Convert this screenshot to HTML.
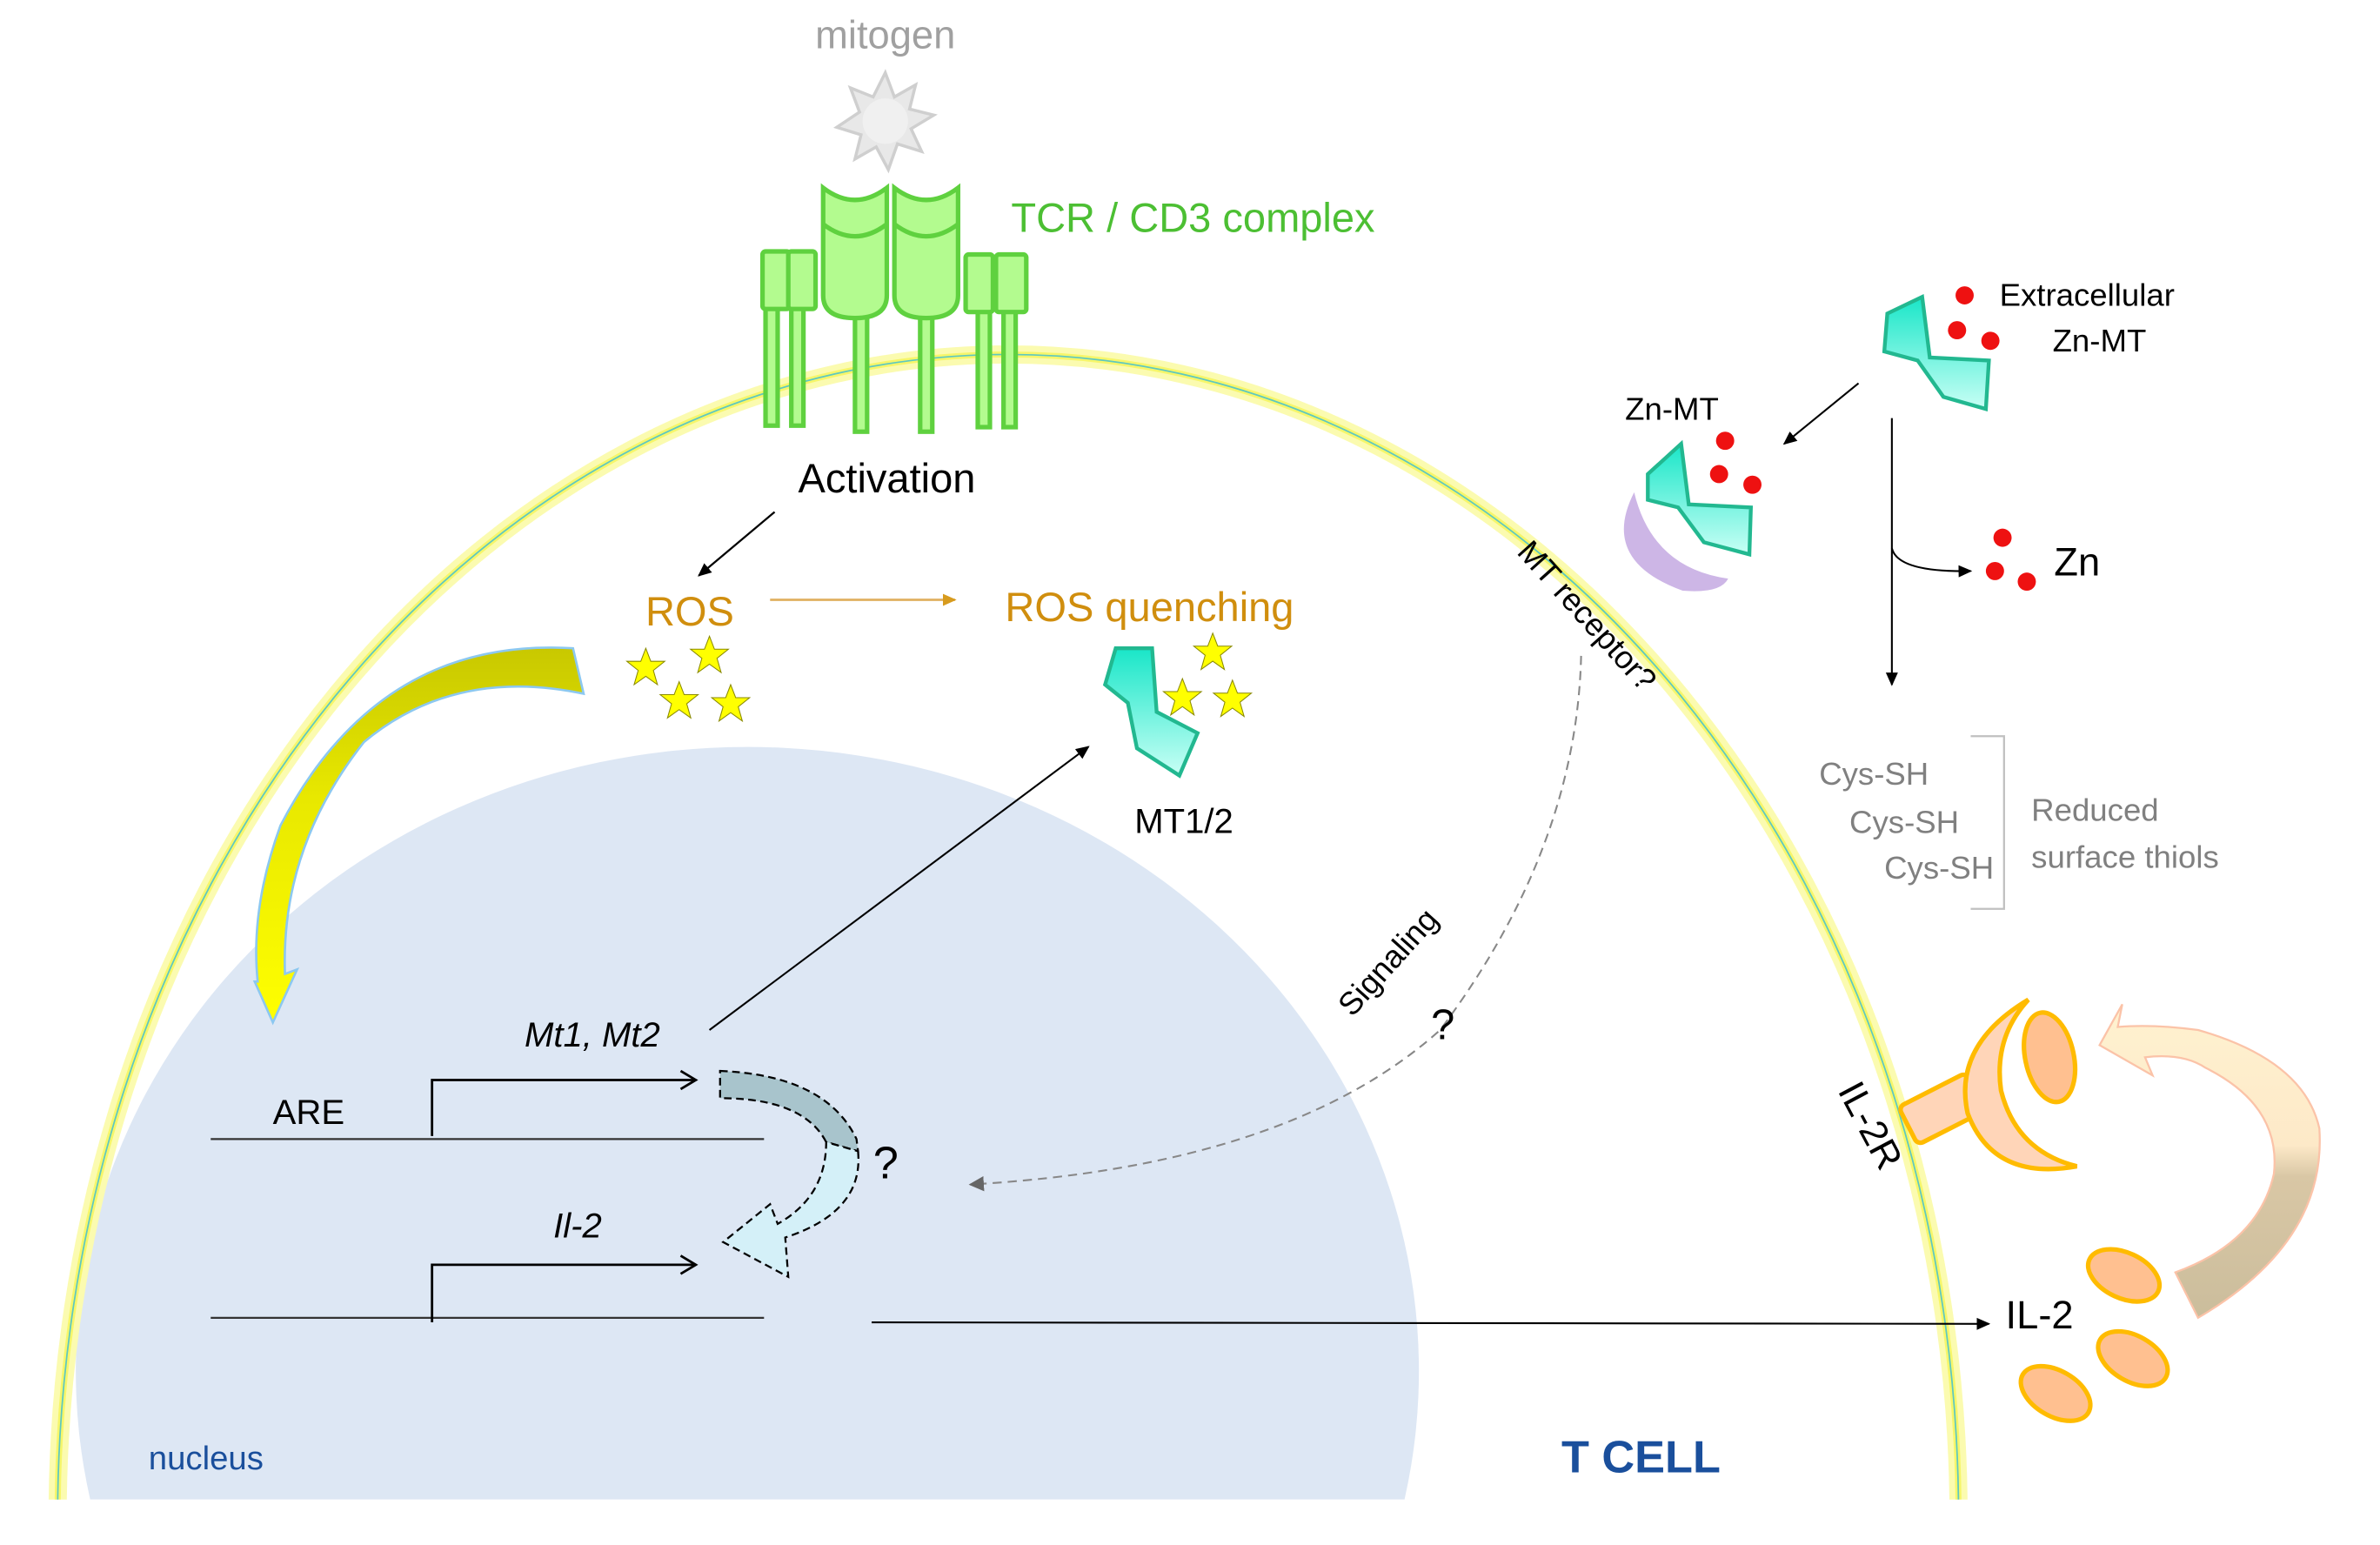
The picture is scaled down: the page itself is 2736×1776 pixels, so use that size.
<!DOCTYPE html>
<html><head><meta charset="utf-8"><style>
html,body{margin:0;padding:0;background:#fff;width:2736px;height:1776px;overflow:hidden;}
svg{display:block;}
text{font-family:"Liberation Sans",sans-serif;}
</style></head><body>
<svg width="2736" height="1776" viewBox="0 0 1570 1020" preserveAspectRatio="none" xmlns="http://www.w3.org/2000/svg">
<defs>
<linearGradient id="mtg" x1="0" y1="0" x2="0" y2="1"><stop offset="0" stop-color="#19e6c8"/><stop offset="1" stop-color="#c8fff5"/></linearGradient>
<linearGradient id="yg" x1="0" y1="0" x2="0" y2="1"><stop offset="0" stop-color="#c8c800"/><stop offset="0.4" stop-color="#e8e800"/><stop offset="1" stop-color="#ffff00"/></linearGradient>
<linearGradient id="og" x1="0" y1="0" x2="0" y2="1"><stop offset="0" stop-color="#fff2d0"/><stop offset="0.45" stop-color="#fde9c8"/><stop offset="0.55" stop-color="#d9c7a5"/><stop offset="1" stop-color="#cbbd9c"/></linearGradient>
<marker id="ah" markerWidth="10" markerHeight="10" refX="8" refY="5" orient="auto" markerUnits="userSpaceOnUse"><path d="M0,1 L9,5 L0,9 z" fill="#000"/></marker>
<marker id="ahg" markerWidth="12" markerHeight="12" refX="9" refY="6" orient="auto" markerUnits="userSpaceOnUse"><path d="M0,1 L10,6 L0,11 z" fill="#666"/></marker>
<marker id="aho" markerWidth="10" markerHeight="10" refX="8" refY="5" orient="auto" markerUnits="userSpaceOnUse"><path d="M0,1 L9,5 L0,9 z" fill="#d79b1e"/></marker>
<marker id="aop" markerWidth="14" markerHeight="14" refX="10" refY="7" orient="auto" markerUnits="userSpaceOnUse"><path d="M1,1 L11,7 L1,13" fill="none" stroke="#000" stroke-width="1.6"/></marker>
</defs>

<path d="M59.5,990 A443,412 0 1 1 926.5,990 Z" fill="#dde7f4"/>
<path d="M38,1002 A627,768 0 0 1 1292,1002" fill="none" stroke="#fbfbb0" stroke-width="12"/>
<path d="M38,1002 A627,768 0 0 1 1292,1002" fill="none" stroke="#f6f66a" stroke-width="4"/>
<path d="M38,1002 A627,768 0 0 1 1292,1002" fill="none" stroke="#5ec8c0" stroke-width="1"/>
<rect x="0" y="990" width="1570" height="30" fill="#fff"/>

<text x="584" y="32" font-size="26" fill="#a0a0a0" text-anchor="middle">mitogen</text>
<g transform="translate(584,80)">
<polygon points="0,-32 6,-16 20,-24 16,-8 32,-4 17,5 24,20 8,15 2,32 -6,17 -20,25 -16,9 -32,4 -17,-6 -23,-22 -8,-16" fill="#e8e8e8" stroke="#cfcfcf" stroke-width="2"/>
<circle r="15" fill="#f0f0f0"/>
</g>

<g fill="#b3fb8f" stroke="#5fd13f" stroke-width="3">
<rect x="505" y="196" width="8" height="85"/><rect x="522" y="196" width="8" height="85"/>
<rect x="564" y="205" width="8" height="80"/><rect x="607" y="205" width="8" height="80"/>
<rect x="645" y="200" width="8" height="82"/><rect x="662" y="200" width="8" height="82"/>
<rect x="503" y="166" width="18" height="38" rx="2"/><rect x="520" y="166" width="18" height="38" rx="2"/>
<rect x="637" y="168" width="18" height="38" rx="2"/><rect x="657" y="168" width="20" height="38" rx="2"/>
<path d="M543,124 Q564,140 585,124 L585,195 Q585,210 564,210 Q543,210 543,195 Z"/>
<path d="M590,124 Q611,140 632,124 L632,195 Q632,210 611,210 Q590,210 590,195 Z"/>
<path d="M543,148 Q564,164 585,148" fill="none"/>
<path d="M590,148 Q611,164 632,148" fill="none"/>
</g>
<text x="667" y="153" font-size="27" fill="#4cbf33">TCR / CD3 complex</text>

<text x="585" y="325" font-size="27" fill="#000" text-anchor="middle">Activation</text>
<line x1="511" y1="338" x2="461" y2="380" stroke="#000" stroke-width="1.3" marker-end="url(#ah)"/>

<text x="455" y="413" font-size="27" fill="#d08e0e" text-anchor="middle">ROS</text>
<line x1="508" y1="396" x2="630" y2="396" stroke="#e0b060" stroke-width="1.6" marker-end="url(#aho)"/>
<text x="663" y="410" font-size="27" fill="#d08e0e">ROS quenching</text>

<g fill="#ffff00" stroke="#8a8a00" stroke-width="0.6">
<path d="M0,-13 L3.3,-4.4 L12.5,-4.4 L5,1.6 L7.7,11 L0,5.5 L-7.7,11 L-5,1.6 L-12.5,-4.4 L-3.3,-4.4 Z" transform="translate(426,441)"/>
<path d="M0,-13 L3.3,-4.4 L12.5,-4.4 L5,1.6 L7.7,11 L0,5.5 L-7.7,11 L-5,1.6 L-12.5,-4.4 L-3.3,-4.4 Z" transform="translate(468,433)"/>
<path d="M0,-13 L3.3,-4.4 L12.5,-4.4 L5,1.6 L7.7,11 L0,5.5 L-7.7,11 L-5,1.6 L-12.5,-4.4 L-3.3,-4.4 Z" transform="translate(448,463)"/>
<path d="M0,-13 L3.3,-4.4 L12.5,-4.4 L5,1.6 L7.7,11 L0,5.5 L-7.7,11 L-5,1.6 L-12.5,-4.4 L-3.3,-4.4 Z" transform="translate(482,465)"/>
<path d="M0,-13 L3.3,-4.4 L12.5,-4.4 L5,1.6 L7.7,11 L0,5.5 L-7.7,11 L-5,1.6 L-12.5,-4.4 L-3.3,-4.4 Z" transform="translate(800,431)"/>
<path d="M0,-13 L3.3,-4.4 L12.5,-4.4 L5,1.6 L7.7,11 L0,5.5 L-7.7,11 L-5,1.6 L-12.5,-4.4 L-3.3,-4.4 Z" transform="translate(780,461)"/>
<path d="M0,-13 L3.3,-4.4 L12.5,-4.4 L5,1.6 L7.7,11 L0,5.5 L-7.7,11 L-5,1.6 L-12.5,-4.4 L-3.3,-4.4 Z" transform="translate(813,462)"/>
</g>

<polygon points="736,428 760,428 763,470 790,484 778,512 750,494 744,464 729,452" fill="url(#mtg)" stroke="#22b890" stroke-width="2.5"/>
<polygon points="1245,207 1268,196 1273,236 1312,238 1310,270 1282,262 1265,238 1243,232" fill="url(#mtg)" stroke="#22b890" stroke-width="2.5"/>
<path d="M1078,325 Q1055,370 1110,390 Q1135,392 1140,382 Q1090,375 1078,325 Z" fill="#cdb6e6"/>
<polygon points="1087,313 1109,293 1114,333 1155,335 1154,366 1124,358 1107,335 1087,330" fill="url(#mtg)" stroke="#22b890" stroke-width="2.5"/>

<text x="781" y="550" font-size="23" fill="#000" text-anchor="middle">MT1/2</text>

<g fill="#ee1111">
<circle cx="1296" cy="195" r="6"/><circle cx="1291" cy="218" r="6"/><circle cx="1313" cy="225" r="6"/>
<circle cx="1138" cy="291" r="6"/><circle cx="1134" cy="313" r="6"/><circle cx="1156" cy="320" r="6"/>
<circle cx="1321" cy="355" r="6"/><circle cx="1316" cy="377" r="6"/><circle cx="1337" cy="384" r="6"/>
</g>
<text x="1319" y="202" font-size="21" fill="#000">Extracellular</text>
<text x="1354" y="232" font-size="21" fill="#000">Zn-MT</text>
<text x="1072" y="277" font-size="21" fill="#000">Zn-MT</text>
<text x="1355" y="380" font-size="26" fill="#000">Zn</text>

<line x1="1226" y1="253" x2="1177" y2="293" stroke="#000" stroke-width="1.2" marker-end="url(#ah)"/>
<line x1="1248" y1="276" x2="1248" y2="452" stroke="#000" stroke-width="1.2" marker-end="url(#ah)"/>
<path d="M1248,362 Q1252,378 1300,377" fill="none" stroke="#000" stroke-width="1.2" marker-end="url(#ah)"/>

<text x="1200" y="518" font-size="21" fill="#808080">Cys-SH</text>
<text x="1220" y="550" font-size="21" fill="#808080">Cys-SH</text>
<text x="1243" y="580" font-size="21" fill="#808080">Cys-SH</text>
<path d="M1300,486 L1322,486 L1322,600 L1300,600" fill="none" stroke="#c0c0c0" stroke-width="1.3"/>
<text x="1340" y="542" font-size="21" fill="#808080">Reduced</text>
<text x="1340" y="573" font-size="21" fill="#808080">surface thiols</text>

<text transform="translate(1000,365) rotate(48)" font-size="21" fill="#000">MT receptor?</text>

<path d="M1043,433 Q1040,560 950,680 Q850,770 640,782" fill="none" stroke="#888" stroke-width="1.2" stroke-dasharray="6,4" marker-end="url(#ahg)"/>
<text transform="translate(892,672) rotate(-48)" font-size="21" fill="#000">Signaling</text>
<text x="944" y="686" font-size="28" fill="#000">?</text>

<path d="M378,428 Q250,420 185,545 Q165,600 170,648 L168,648 L180,675 L196,640 L188,643 Q185,560 240,490 Q300,440 385,458 Z" fill="url(#yg)" stroke="#8cc8f0" stroke-width="1.5"/>

<line x1="139" y1="752" x2="504" y2="752" stroke="#333" stroke-width="1.3"/>
<line x1="139" y1="870" x2="504" y2="870" stroke="#333" stroke-width="1.3"/>
<text x="180" y="742" font-size="23" fill="#000">ARE</text>
<path d="M285,750 L285,713 L458,713" fill="none" stroke="#000" stroke-width="1.6" marker-end="url(#aop)"/>
<path d="M285,873 L285,835 L458,835" fill="none" stroke="#000" stroke-width="1.6" marker-end="url(#aop)"/>
<text x="346" y="691" font-size="23" fill="#000" font-style="italic">Mt1, Mt2</text>
<text x="365" y="817" font-size="23" fill="#000" font-style="italic">Il-2</text>
<line x1="468" y1="680" x2="718" y2="493" stroke="#000" stroke-width="1.2" marker-end="url(#ah)"/>

<path d="M475,707 Q545,710 565,752 L566,760 L545,754 Q530,725 475,725 Z" fill="#a8c4cc" stroke="#000" stroke-width="1.3" stroke-dasharray="5,3"/>
<path d="M566,760 Q570,800 518,817 L520,843 L477,820 L508,795 L513,808 Q545,790 545,754 Z" fill="#d4f0f8" stroke="#000" stroke-width="1.3" stroke-dasharray="5,3"/>
<text x="576" y="778" font-size="30" fill="#000">?</text>

<line x1="575" y1="873" x2="1312" y2="874" stroke="#000" stroke-width="1.2" marker-end="url(#ah)"/>
<text x="1323" y="877" font-size="26" fill="#000">IL-2</text>

<g stroke="#ffbb00" stroke-width="3">
<rect x="1256" y="718" width="50" height="28" rx="4" fill="#ffd5b8" transform="rotate(-27 1281 732)"/>
<path d="M1338,660 Q1288,690 1298,735 Q1315,780 1370,770 Q1330,760 1320,720 Q1315,685 1338,660 Z" fill="#ffd5b8"/>
<ellipse cx="1352" cy="698" rx="16" ry="30" transform="rotate(-12 1352 698)" fill="#ffc090"/>
</g>
<text transform="translate(1212,720) rotate(62)" font-size="25" fill="#000">IL-2R</text>

<path d="M1450,870 Q1535,820 1530,745 Q1520,700 1450,680 Q1420,676 1397,678 L1400,663 L1385,690 L1420,710 L1415,698 Q1440,695 1455,705 Q1505,730 1500,775 Q1490,820 1435,840 Z" fill="url(#og)" stroke="#fbc3a8" stroke-width="1.3"/>

<g fill="#ffc090" stroke="#ffbb00" stroke-width="3">
<ellipse cx="1401" cy="842" rx="25" ry="15" transform="rotate(25 1401 842)"/>
<ellipse cx="1407" cy="897" rx="25" ry="15" transform="rotate(30 1407 897)"/>
<ellipse cx="1356" cy="920" rx="25" ry="15" transform="rotate(30 1356 920)"/>
</g>

<text x="98" y="970" font-size="22" fill="#1a4f9c">nucleus</text>
<text x="1030" y="972" font-size="30" fill="#1a4f9c" font-weight="bold">T CELL</text>
</svg>
</body></html>
